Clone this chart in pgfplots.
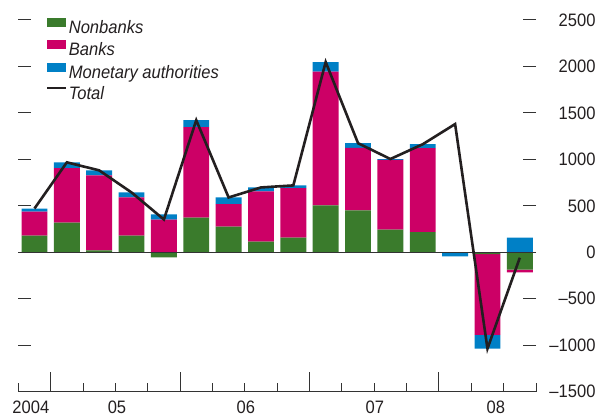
\documentclass[border=0pt]{standalone}
\usepackage{fontspec}
\setmainfont{Liberation Sans}[FakeStretch=0.92]
\usepackage{pgfplots}
\usepackage{pgfplotstable}
\pgfplotsset{compat=1.18}
\definecolor{cgreen}{HTML}{3A7B2C}
\definecolor{cmag}{HTML}{CC0066}
\definecolor{cblue}{HTML}{0080C6}
\definecolor{ctot}{HTML}{231F20}
\definecolor{caxis}{HTML}{333333}

\pgfplotstableread{
x   nbp  bp    map  nbn   bn    man   tot
1   180  259   32   0     0     0     471
2   320  587   61   0     0     0     968
3   22   806   54   0     0     0     882
4   180  410   54   0     0     0     644
5   0    353   54   -54   0     0     353
6   374  972   76   0     0     0     1422
7   277  241   72   0     0     0     590
8   115  540   43   0     0     0     698
9   158  533   29   0     0     0     720
10  504  1440  104  0     0     0     2048
11  450  673   51   0     0     0     1174
12  245  749   10   0     0     0     1004
13  216  904   43   0     0     0     1163
14  0    0     0    0     0     -43   1380
15  0    0     0    -20   -868  -148  -1036
16  0    0     158  -187  -29   0     -58
}\data

\pgfplotsset{
  base/.style={scale only axis, width=517.7bp, height=371.7bp,
    xmin=0.5, xmax=16.5, ymin=-1500, ymax=2500,
    at={(18.3bp,26.3bp)}, anchor=south west},
  barlegend/.style={legend image code/.code={\fill[##1] (0bp,2bp) rectangle (19bp,11bp);}},
  linelegend/.style={legend image code/.code={\draw[##1] (0bp,6.5bp) -- (19bp,6.5bp);}},
}

\begin{document}
\begin{tikzpicture}
\path[use as bounding box] (0,0) rectangle (599bp,418bp);
% positive parts, y ticks, year labels, legend
\begin{axis}[base,
  ybar stacked, bar width=0.8,
  axis line style={draw=none},
  ytick={-1500,-1000,...,2500},
  yticklabels={–1500,–1000,–500,0,500,1000,1500,2000,2500},
  ytick pos=both, yticklabel pos=right,
  tick align=inside, major tick length=13bp,
  every tick/.style={caxis, line width=1bp},
  yticklabel style={anchor=east, xshift=63bp},
  xtick={0.89,3.55,7.53,11.52,15.26},
  xticklabels={2004,05,06,07,08},
  x tick style={draw=none},
  xticklabel style={yshift=-6bp},
  tick label style={font=\fontsize{18bp}{20bp}\selectfont, text=ctot},
  legend style={at={(axis description cs:0.0535,1.0)}, anchor=north west,
    yshift=2.5bp,
    draw=none, fill=none, inner sep=0pt, row sep=2bp,
    font=\fontsize{18bp}{20bp}\selectfont\itshape, text=ctot,
    nodes={inner sep=1bp, text height=13bp, text depth=4bp}},
  legend cell align=left,
  barlegend,
]
\addplot[fill=cgreen, draw=none] table[x=x, y=nbp] {\data};
\addplot[fill=cmag, draw=none] table[x=x, y=bp] {\data};
\addplot[fill=cblue, draw=none] table[x=x, y=map] {\data};
\addlegendimage{linelegend, ctot, line width=2.6bp}
\legend{Nonbanks, Banks, Monetary authorities, Total}
\end{axis}
% negative parts
\begin{axis}[base, hide axis, ybar stacked, bar width=0.8]
\addplot[fill=cgreen, draw=none] table[x=x, y=nbn] {\data};
\addplot[fill=cmag, draw=none] table[x=x, y=bn] {\data};
\addplot[fill=cblue, draw=none] table[x=x, y=man] {\data};
\end{axis}
% zero line, total, x axis ticks
\begin{axis}[base,
  axis y line=none, axis x line*=bottom,
  axis line style={caxis, line width=1.2bp},
  ytick=\empty,
  xtick={1.5,5.5,9.5,13.5}, xticklabels=\empty,
  minor xtick={0.5,2.5,3.5,4.5,6.5,7.5,8.5,10.5,11.5,12.5,14.5,15.5,16.5},
  tick align=inside, major tick length=20bp, minor tick length=9bp,
  every tick/.style={caxis, line width=1bp},
]
\addplot[caxis, line width=1.3bp, forget plot] coordinates {(0.5,0) (16.5,0)};
\addplot[ctot, line width=2.6bp, line join=miter, mark=none] table[x=x, y=tot] {\data};
\end{axis}
\end{tikzpicture}
\end{document}
